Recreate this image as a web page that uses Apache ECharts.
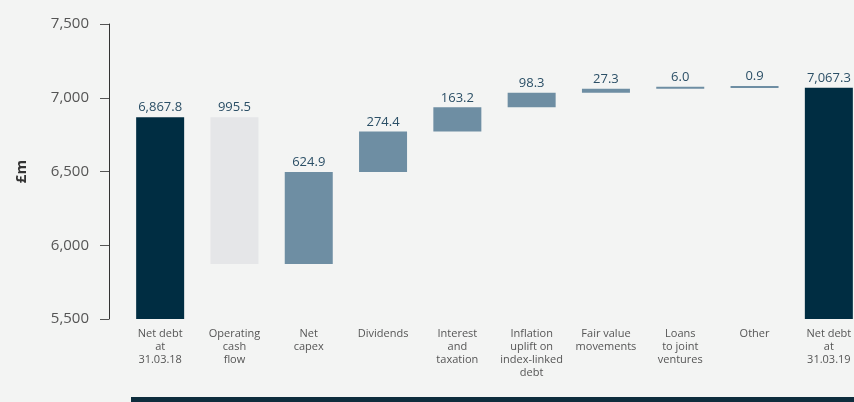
<!DOCTYPE html>
<html>
<head>
<meta charset="utf-8">
<script src="https://cdn.jsdelivr.net/npm/echarts@6/dist/echarts.min.js"></script>
<style>
  html, body { margin: 0; padding: 0; background: #f3f4f3; overflow: hidden; }
  #main { width: 870px; height: 402px; }
</style>
</head>
<body>
<div id="main"></div>
<script>
// chart data
const categories = [
  "Net debt\nat\n31.03.18", "Operating\ncash\nflow", "Net\ncapex", "Dividends",
  "Interest\nand\ntaxation", "Inflation\nuplift on\nindex-linked\ndebt",
  "Fair value\nmovements", "Loans\nto joint\nventures", "Other", "Net debt\nat\n31.03.19"
];
// movement sizes; sign gives direction
const movements = [6867.8, -995.5, 624.9, 274.4, 163.2, 98.3, 27.3, 6.0, 0.9, 7067.3];
// 'total' = full bar, 'down' = decrease, 'up' = increase
const kinds = ["total", "down", "up", "up", "up", "up", "up", "up", "up", "total"];
const yTicks = [5500, 6000, 6500, 7000, 7500];

const colors = { total: "#002d42", down: "#e5e6e8", up: "#6e8ea3" };

// running totals -> invisible base + visible part
let running = 0;
const baseData = [];
const barData = [];
movements.forEach((v, i) => {
  if (kinds[i] === "total") {
    baseData.push(0);
    barData.push({ value: v, raw: v, itemStyle: { color: colors.total } });
    running = v;
  } else {
    const next = running + v;
    baseData.push(Math.min(running, next));
    barData.push({ value: Math.abs(v), raw: Math.abs(v), itemStyle: { color: colors[kinds[i]] } });
    running = next;
  }
});

function fmt(n) {
  return n.toLocaleString("en-GB", { minimumFractionDigits: 1, maximumFractionDigits: 1 });
}

// container is a bit wider than the window so the last bar gets cut off
let myChart = echarts.init(document.getElementById("main"));
myChart.setOption({
  backgroundColor: "#f3f4f3",
  animation: false,
  grid: { left: 123, right: 4, top: 24, bottom: 83 },
  xAxis: {
    type: "category",
    data: categories,
    axisLine: { show: false },
    axisTick: { show: false },
    axisLabel: {
      interval: 0,
      margin: 8,
      color: "#555",
      fontFamily: "Open Sans",
      fontSize: 11,
      lineHeight: 13
    }
  },
  yAxis: {
    type: "value",
    min: yTicks[0],
    max: yTicks[yTicks.length - 1],
    interval: 500,
    offset: 14,
    name: "£m",
    nameLocation: "middle",
    nameRotate: 90,
    nameGap: 80,
    nameTextStyle: { color: "#333", fontFamily: "Open Sans", fontSize: 15, fontWeight: "bold" },
    splitLine: { show: false },
    axisLine: { show: true, lineStyle: { color: "#333", width: 1 } },
    axisTick: { show: true, length: 9, lineStyle: { color: "#555" } },
    axisLabel: {
      color: "#555",
      fontFamily: "Open Sans",
      fontSize: 15,
      margin: 20,
      formatter: v => v.toLocaleString("en-GB")
    }
  },
  series: [
    {
      type: "bar",
      stack: "wf",
      data: baseData,
      itemStyle: { color: "transparent" },
      silent: true,
      barWidth: 48
    },
    {
      type: "bar",
      stack: "wf",
      data: barData,
      barWidth: 48,
      barMinHeight: 2,
      label: {
        show: true,
        position: "top",
        distance: 3,
        color: "#2b4f66",
        fontFamily: "Open Sans",
        fontSize: 13,
        formatter: p => fmt(p.data.raw)
      }
    }
  ],
  graphic: [
    {
      type: "rect",
      shape: { x: 131, y: 397, width: 739, height: 5 },
      style: { fill: "#0e2d3d" }
    }
  ]
});
</script>
</body>
</html>
